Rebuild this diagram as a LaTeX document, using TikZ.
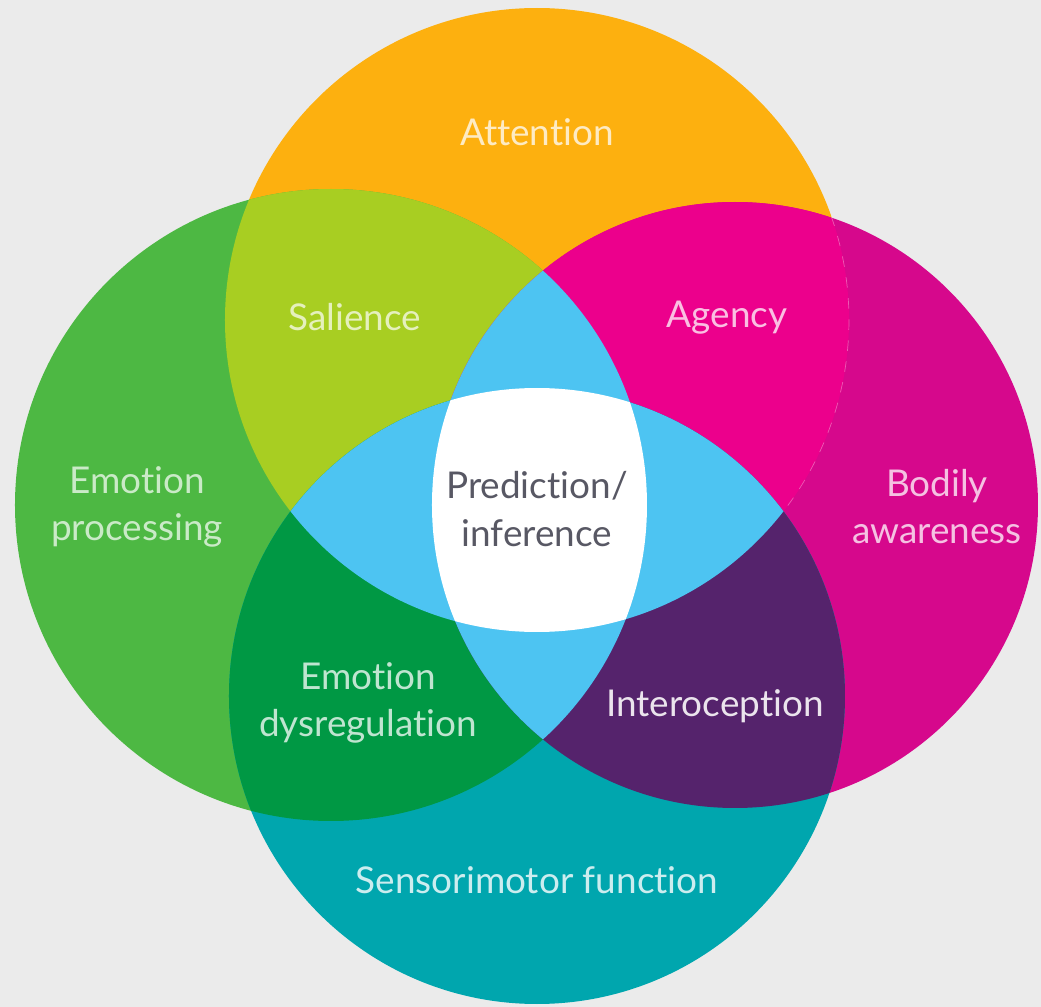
\documentclass[tikz,border=0pt]{standalone}
\usepackage{fontspec}
\setmainfont{Lato}[Ligatures={NoCommon}]
\definecolor{pagegray}{RGB}{235,235,235}
\definecolor{attorange}{RGB}{253,176,15}
\definecolor{emogreen}{RGB}{77,184,67}
\definecolor{bodmagenta}{RGB}{214,8,140}
\definecolor{senteal}{RGB}{0,166,174}
\definecolor{salgreen}{RGB}{168,206,34}
\definecolor{agepink}{RGB}{236,0,140}
\definecolor{dysgreen}{RGB}{0,152,68}
\definecolor{intpurple}{RGB}{85,35,108}
\definecolor{tripleblue}{RGB}{77,196,242}
\definecolor{predgray}{RGB}{88,88,100}
\usepackage{tikz}
\usetikzlibrary{positioning}

% the four circles
\newcommand{\attcircle}{(0,1.85) circle (3.12)}
\newcommand{\emocircle}{(-2.06,0) circle (3.16)}
\newcommand{\bodcircle}{(1.98,0) circle (3.03)}
\newcommand{\sencircle}{(0,-1.91) circle (3.08)}

\begin{document}
\begin{tikzpicture}[
    lbl/.style={align=center, font=\fontsize{10.5}{13.4}\selectfont, inner sep=0pt},
  ]
    \fill[pagegray] (-5.37,5.05) rectangle (5.04,-5.02);
    \useasboundingbox (-5.37,5.05) rectangle (5.04,-5.02);

    % single sets
    \fill[attorange] \attcircle;
    \fill[emogreen] \emocircle;
    \fill[bodmagenta] \bodcircle;
    \fill[senteal] \sencircle;

    % pairwise overlaps
    \begin{scope}
      \clip \attcircle;
      \fill[salgreen] \emocircle;
      \fill[agepink] \bodcircle;
    \end{scope}
    \begin{scope}
      \clip \sencircle;
      \fill[dysgreen] \emocircle;
      \fill[intpurple] \bodcircle;
    \end{scope}

    % three sets
    \begin{scope}
      \clip \attcircle;
      \fill[tripleblue] \sencircle;
    \end{scope}
    \begin{scope}
      \clip \emocircle;
      \fill[tripleblue] \bodcircle;
    \end{scope}

    % all four
    \begin{scope}
      \clip \attcircle;
      \clip \sencircle;
      \clip \emocircle;
      \fill[white] \bodcircle;
    \end{scope}

    % faint edge between agency and bodily awareness
    \draw[white, opacity=0.35, dashed, very thin]
      (0,1.85) ++(19.5:3.12) arc[start angle=19.5, end angle=-36.5, radius=3.12];

    \node[lbl, text=attorange!25!white] (attention) at (0,3.73) {Attention};
    \node[lbl, text=salgreen!30!white] (salience) at (-1.82,1.88) {Salience};
    \node[lbl, text=agepink!25!white] (agency) at (1.90,1.87) {Agency};
    \node[lbl, text=emogreen!30!white] (emotion) at (-4.00,-0.02) {Emotion\\processing};
    \node[lbl, text=predgray] (prediction) at (0,-0.04) {Prediction/\\inference};
    \node[lbl, text=bodmagenta!25!white] (bodily) at (4.00,-0.02) {Bodily\\awareness};
    \node[lbl, text=dysgreen!25!white] (dysreg) at (-1.69,-1.98) {Emotion\\dysregulation};
    \node[lbl, text=intpurple!12!white] (intero) at (1.78,-2.01) {Interoception};
    \node[lbl, text=senteal!20!white] (sensori) at (0,-3.75) {Sensorimotor function};
  \end{tikzpicture}
\end{document}
